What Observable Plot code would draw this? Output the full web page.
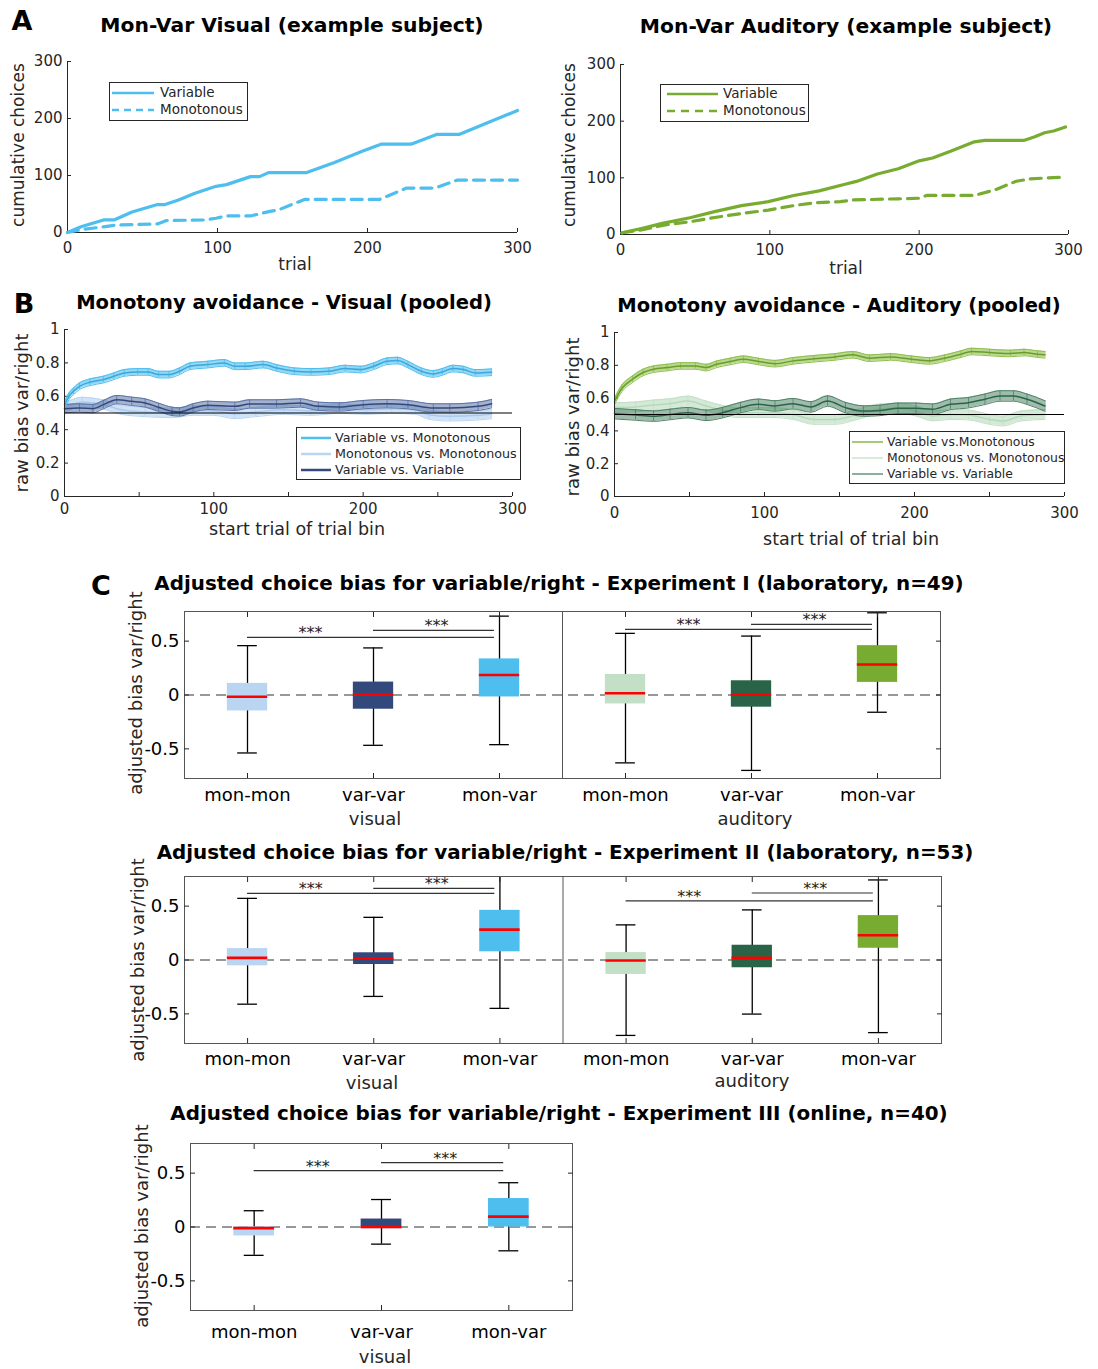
<!DOCTYPE html>
<html>
<head>
<meta charset="utf-8">
<script src="https://cdn.jsdelivr.net/npm/d3@7"></script>
<script src="https://cdn.jsdelivr.net/npm/@observablehq/plot@0.6"></script>
<style>
html,body{margin:0;padding:0;background:#fff;}
#root{position:relative;width:1098px;height:1369px;overflow:hidden;font-family:"DejaVu Sans",sans-serif;color:#000;}
.t{position:absolute;white-space:nowrap;line-height:1;transform-origin:0 0;}
.lg{position:absolute;border:1px solid #262626;background:#fff;box-sizing:border-box;}
.lg .row{position:absolute;white-space:nowrap;line-height:1;transform:translateY(-50%);color:#262626;}
.lg svg{position:absolute;overflow:visible;}
</style>
</head>
<body>
<div id="root"></div>
<script>
// ---------------- DATA ----------------
// Panel A: cumulative choices [trial, count]
const aVisVar = [[0,0],[9,10],[24,22],[31,22],[43,36],[60,49],[65,49],[74,57],[85,69],[99,81],[106,84],[122,98],[128,98],[134,105],[159,105],[178,123],[196,142],[209,155],[229,155],[246,172],[261,172],[300,214]];
const aVisMon = [[0,0],[9,5],[24,10],[32,13],[60,15],[66,21],[92,22],[99,25],[106,29],[122,29],[135,37],[141,40],[158,58],[208,58],[226,78],[245,78],[260,92],[300,92]];
const aAudVar = [[1,3],[14,10.7],[28,19.6],[46.5,29.6],[63,40.3],[81,51],[99,58],[116,68.8],[133,77],[151,89],[158,93.7],[172,106.7],[186,116],[200,130],[209,135],[221,147],[237,163.6],[244,166],[270,166],[277,172],[284,179.6],[290,182.6],[298,189.7]];
const aAudMon = [[1,3],[14,8],[30,17],[46.5,22.5],[63,30],[81,37],[99,43],[116,51],[130,56],[147,58],[156,61],[186,63],[200,64],[205,69],[237,69],[251,79],[265,94],[274,98],[286,100],[298,101]];
const aTicks = [0, 100, 200, 300];

// Panel B: raw bias [start trial, bias]
const bVisVM = [[0,0.55],[3,0.60],[6,0.63],[10,0.66],[17,0.684],[26,0.70],[33,0.72],[40,0.74],[49,0.746],[56,0.746],[63,0.73],[70,0.73],[77,0.75],[84,0.78],[96,0.79],[107,0.80],[114,0.78],[121,0.78],[133,0.79],[142,0.77],[154,0.75],[165,0.746],[177,0.75],[188,0.766],[198,0.76],[207,0.78],[216,0.81],[223,0.814],[230,0.79],[239,0.75],[247,0.734],[253,0.746],[260,0.766],[267,0.76],[275,0.74],[286,0.744]];
const bVisVV = [[0,0.526],[10,0.53],[19,0.526],[26,0.55],[35,0.58],[45,0.57],[54,0.56],[63,0.534],[72,0.51],[77,0.506],[86,0.53],[96,0.546],[114,0.54],[124,0.554],[142,0.554],[158,0.56],[170,0.54],[184,0.536],[200,0.55],[216,0.556],[230,0.55],[247,0.53],[258,0.53],[277,0.54],[286,0.556]];
const bVisMM = [[0,0.53],[12,0.566],[26,0.55],[38,0.52],[54,0.506],[72,0.50],[86,0.514],[100,0.514],[114,0.494],[128,0.506],[147,0.52],[165,0.514],[184,0.526],[202,0.52],[219,0.526],[235,0.52],[244,0.49],[258,0.48],[277,0.486],[286,0.494]];
const bAudVM = [[0,0.58],[5,0.66],[12,0.715],[19,0.756],[26,0.776],[35,0.786],[44,0.796],[54,0.796],[61,0.786],[68,0.806],[77,0.823],[86,0.837],[96,0.823],[107,0.81],[119,0.827],[133,0.84],[147,0.851],[159,0.864],[170,0.843],[184,0.851],[198,0.837],[210,0.827],[220,0.843],[231,0.868],[238,0.884],[250,0.878],[264,0.872],[273,0.878],[282,0.868],[287,0.864]];
const bAudVV = [[0,0.505],[14,0.497],[26,0.49],[37,0.50],[49,0.511],[61,0.495],[72,0.511],[84,0.542],[96,0.562],[107,0.552],[119,0.566],[131,0.546],[142,0.582],[154,0.542],[166,0.521],[177,0.525],[189,0.538],[201,0.538],[212,0.532],[224,0.562],[236,0.572],[247,0.593],[257,0.613],[266,0.613],[275,0.593],[287,0.552]];
const bAudMM = [[0,0.542],[14,0.546],[26,0.558],[37,0.566],[49,0.582],[61,0.552],[72,0.525],[84,0.511],[96,0.511],[107,0.511],[119,0.50],[133,0.47],[147,0.47],[161,0.497],[175,0.532],[189,0.538],[201,0.521],[212,0.491],[224,0.50],[236,0.497],[250,0.47],[259,0.46],[271,0.491],[287,0.50]];
const bErr = {visVM: 0.02, visVV: 0.025, visMM: 0.028, audVM: 0.02, audVV: 0.032, audMM: 0.03};
const bXTicks = [0, 50, 100, 150, 200, 250, 300];
const bYTicks = [0, 0.2, 0.4, 0.6, 0.8, 1];

// Panel C: boxplots [whisker low, q1, median, q3, whisker high]
const cats = ["mon-mon", "var-var", "mon-var"];
const exp1Visual   = [[-0.538,-0.148,-0.016,0.108,0.458],[-0.467,-0.132,0.003,0.12,0.437],[-0.461,-0.018,0.185,0.335,0.732]];
const exp1Auditory = [[-0.63,-0.083,0.016,0.191,0.572],[-0.70,-0.113,0.003,0.132,0.547],[-0.16,0.117,0.283,0.458,0.763]];
const exp2Visual   = [[-0.41,-0.054,0.02,0.106,0.572],[-0.338,-0.042,0.014,0.067,0.396],[-0.449,0.076,0.282,0.461,0.80]];
const exp2Auditory = [[-0.70,-0.134,-0.005,0.069,0.326],[-0.502,-0.072,0.02,0.137,0.465],[-0.674,0.109,0.23,0.412,0.743]];
const exp3Visual   = [[-0.263,-0.083,-0.01,0.002,0.151],[-0.159,-0.015,0.0,0.074,0.255],[-0.221,0.0,0.096,0.264,0.411]];
// significance bar heights [mon-mon→mon-var, var-var→mon-var]
const exp1VisualSig = [0.535, 0.60];
const exp1AuditorySig = [0.61, 0.655];
const exp2VisualSig = [0.618, 0.665];
const exp2AuditorySig = [0.548, 0.622];
const exp3VisualSig = [0.524, 0.598];
const cYTicks = [-0.5, 0, 0.5];

// ---------------- STYLE ----------------
const AX = "#262626";
const visBlue = "#4DBEEE", visLight = "#BAD5F2", visDark = "#34497B";
const audGreen = "#77AC30", audLight = "#C3DFC6", audDark = "#2A6448";
const visBox = [visLight, visDark, visBlue];
const audBox = [audLight, audDark, audGreen];
const FONT = "DejaVu Sans";

const root = document.getElementById("root");

function txt(s, x, y, o = {}) {
  const d = document.createElement("div");
  d.className = "t";
  d.textContent = s;
  d.style.left = x + "px"; d.style.top = y + "px";
  d.style.fontSize = (o.size || 17) + "px";
  d.style.fontWeight = o.bold ? "bold" : "normal";
  d.style.color = o.color || "#000";
  d.style.transform = (o.rotate ? `rotate(${o.rotate}deg) ` : "") + "translate(-50%,-50%)";
  root.appendChild(d);
}
function place(svg, x, y) {
  svg.style.position = "absolute"; svg.style.left = x + "px"; svg.style.top = y + "px";
  root.appendChild(svg);
}
function legend(x, y, w, h, items, o) {
  const ns = "http://www.w3.org/2000/svg";
  const box = document.createElement("div");
  box.className = "lg";
  Object.assign(box.style, {left: x + "px", top: y + "px", width: w + "px", height: h + "px"});
  items.forEach((it, i) => {
    const ry = o.rows[i];
    const sv = document.createElementNS(ns, "svg");
    const L = o.sw[1] - o.sw[0];
    sv.setAttribute("width", L); sv.setAttribute("height", 6);
    sv.style.left = o.sw[0] + "px"; sv.style.top = (ry - 3) + "px";
    const ln = document.createElementNS(ns, "line");
    ln.setAttribute("x1", 0); ln.setAttribute("x2", L); ln.setAttribute("y1", 3); ln.setAttribute("y2", 3);
    ln.setAttribute("stroke", it.color); ln.setAttribute("stroke-width", o.lw);
    if (it.dash) ln.setAttribute("stroke-dasharray", it.dash);
    sv.appendChild(ln); box.appendChild(sv);
    const r = document.createElement("div");
    r.className = "row"; r.textContent = it.label;
    r.style.left = o.tx + "px"; r.style.top = ry + "px"; r.style.fontSize = o.size + "px";
    box.appendChild(r);
  });
  root.appendChild(box);
}

// ---------------- PANEL A ----------------
function panelA(vdata, mdata, color, m) {
  return Plot.plot({
    width: 540, height: 240, ...m,
    style: {fontFamily: FONT, fontSize: "15px", color: AX, background: "transparent", overflow: "visible"},
    x: {domain: [0, 300]},
    y: {domain: [0, 300]},
    marks: [
      Plot.ruleX([0], {stroke: AX}),
      Plot.ruleY([0], {stroke: AX}),
      Plot.axisX({ticks: aTicks, tickSize: -4, tickPadding: 14, label: null}),
      Plot.axisY({ticks: aTicks, tickSize: -4, tickPadding: 9, label: null}),
      Plot.line(mdata, {x: d => d[0], y: d => d[1], stroke: color, strokeWidth: 3.2, strokeDasharray: "11,7"}),
      Plot.line(vdata, {x: d => d[0], y: d => d[1], stroke: color, strokeWidth: 3.2})
    ]
  });
}
place(panelA(aVisVar, aVisMon, visBlue, {marginLeft: 67, marginRight: 23, marginTop: 21, marginBottom: 48}), 0, 40);
place(panelA(aAudVar, aAudMon, audGreen, {marginLeft: 71, marginRight: 21, marginTop: 24, marginBottom: 46}), 549, 40);

// ---------------- PANEL B ----------------
function bSeries(data, err, color, lineColor, op) {
  const X = d => d[0];
  return [
    Plot.areaY(data, {x: X, y1: d => d[1] - err, y2: d => d[1] + err, fill: color, fillOpacity: op, curve: "monotone-x"}),
    Plot.ruleX(data, {x: X, y1: d => d[1] - err, y2: d => d[1] + err, stroke: color, strokeWidth: 0.8}),
    Plot.line(data, {x: X, y: d => d[1] + err, stroke: color, strokeWidth: 1, curve: "monotone-x"}),
    Plot.line(data, {x: X, y: d => d[1] - err, stroke: color, strokeWidth: 1, curve: "monotone-x"}),
    Plot.line(data, {x: X, y: d => d[1], stroke: lineColor, strokeWidth: 1.5, curve: "monotone-x"})
  ];
}
function panelB(series, m, pad) {
  return Plot.plot({
    width: 540, height: 230, ...m,
    style: {fontFamily: FONT, fontSize: "15px", color: AX, background: "transparent", overflow: "visible"},
    x: {domain: [0, 300]},
    y: {domain: [0, 1]},
    marks: [
      Plot.axisX({ticks: bXTicks, tickFormat: d => d % 100 === 0 ? String(d) : "", tickSize: -4, tickPadding: pad, label: null}),
      Plot.axisY({ticks: bYTicks, tickFormat: d => String(d), tickSize: -4, tickPadding: 9, label: null}),
      ...series,
      Plot.ruleY([0.5], {stroke: "#000", strokeWidth: 1.2}),
      Plot.ruleX([0], {stroke: AX}),
      Plot.ruleY([0], {stroke: AX})
    ]
  });
}
place(panelB([
  ...bSeries(bVisMM, bErr.visMM, visLight, "#A9C9EE", 0.7),
  ...bSeries(bVisVV, bErr.visVV, "#5A72A6", visDark, 0.55),
  ...bSeries(bVisVM, bErr.visVM, visBlue, "#3AA8DC", 0.6)
], {marginLeft: 64, marginRight: 28, marginTop: 19, marginBottom: 44}, 11), 0, 310);
place(panelB([
  ...bSeries(bAudMM, bErr.audMM, audLight, "#B5D9BC", 0.7),
  ...bSeries(bAudVV, bErr.audVV, "#4E8466", audDark, 0.55),
  ...bSeries(bAudVM, bErr.audVM, "#8DBE4A", "#6A9E28", 0.6)
], {marginLeft: 65, marginRight: 25, marginTop: 22, marginBottom: 44}, 15), 549, 310);

// ---------------- PANEL C ----------------
function panelC(groups, width, m, pad) {
  const n = groups.length * 3;
  const rows = groups.flatMap((g, gi) => g.stats.map((s, i) => ({
    pos: gi * 3 + i + 1, lo: s[0], q1: s[1], med: s[2], q3: s[3], hi: s[4], fill: g.colors[i]
  })));
  const sig = groups.flatMap((g, gi) => [
    {x1: gi * 3 + 1, x2: gi * 3 + 3 - 0.04, y: g.sig[0], sx: gi * 3 + 1.5},
    {x1: gi * 3 + 2, x2: gi * 3 + 3 - 0.04, y: g.sig[1], sx: gi * 3 + 2.5}
  ]);
  const posTicks = d3.range(1, n + 1);
  const boxHalf = 0.16, capHalf = 0.078;
  return Plot.plot({
    width, height: 220, ...m,
    style: {fontFamily: FONT, fontSize: "18px", color: AX, background: "transparent", overflow: "visible"},
    x: {domain: [0.5, n + 0.5]},
    y: {domain: [-0.775, 0.775]},
    marks: [
      Plot.ruleY([0], {stroke: "#333", strokeWidth: 1.2, strokeDasharray: "10,6"}),
      Plot.ruleX(rows, {x: "pos", y1: "lo", y2: "hi", stroke: "#000", strokeWidth: 1.3, clip: true}),
      Plot.ruleY(rows, {y: "lo", x1: d => d.pos - capHalf, x2: d => d.pos + capHalf, stroke: "#000", strokeWidth: 1.3}),
      Plot.ruleY(rows.filter(d => d.hi < 0.775), {y: "hi", x1: d => d.pos - capHalf, x2: d => d.pos + capHalf, stroke: "#000", strokeWidth: 1.3}),
      Plot.rect(rows, {x1: d => d.pos - boxHalf, x2: d => d.pos + boxHalf, y1: "q1", y2: "q3", fill: d => d.fill}),
      Plot.ruleY(rows, {y: "med", x1: d => d.pos - boxHalf, x2: d => d.pos + boxHalf, stroke: "#FF0000", strokeWidth: 2.6}),
      Plot.ruleY(sig, {y: "y", x1: "x1", x2: "x2", stroke: "#333", strokeWidth: 1.2}),
      Plot.text(sig, {x: "sx", y: "y", text: () => "***", fontSize: 16, fill: "#222", lineAnchor: "bottom", dy: 1}),
      ...(groups.length > 1 ? [Plot.ruleX([3.5], {stroke: "#555"})] : []),
      Plot.frame({stroke: "#555"}),
      Plot.axisX({ticks: posTicks, tickFormat: p => cats[(p - 1) % 3], tickSize: -5, tickPadding: pad, label: null, fill: "#000"}),
      Plot.axisX({anchor: "top", ticks: posTicks, tickFormat: () => "", tickSize: -5, label: null}),
      Plot.axisY({ticks: cYTicks, tickFormat: d => String(d), tickSize: -5, tickPadding: 10, label: null, fill: "#000"}),
      Plot.axisY({anchor: "right", ticks: cYTicks, tickFormat: () => "", tickSize: -5, label: null})
    ]
  });
}
place(panelC([
  {stats: exp1Visual, colors: visBox, sig: exp1VisualSig},
  {stats: exp1Auditory, colors: audBox, sig: exp1AuditorySig}
], 840, {marginLeft: 64, marginRight: 20, marginTop: 11, marginBottom: 42}, 15), 120, 600);
place(panelC([
  {stats: exp2Visual, colors: visBox, sig: exp2VisualSig},
  {stats: exp2Auditory, colors: audBox, sig: exp2AuditorySig}
], 840, {marginLeft: 64, marginRight: 19, marginTop: 11, marginBottom: 42}, 14), 120, 865);
place(panelC([
  {stats: exp3Visual, colors: visBox, sig: exp3VisualSig}
], 470, {marginLeft: 70, marginRight: 18, marginTop: 11, marginBottom: 42}, 20), 120, 1132);

// ---------------- LEGENDS ----------------
legend(109, 82, 139, 39, [
  {label: "Variable", color: visBlue},
  {label: "Monotonous", color: visBlue, dash: "7,5"}
], {rows: [10, 27], sw: [2, 44], tx: 50, lw: 2.5, size: 13.5});
legend(660, 84, 149, 38, [
  {label: "Variable", color: audGreen},
  {label: "Monotonous", color: audGreen, dash: "8,6"}
], {rows: [9, 26], sw: [6, 57], tx: 62, lw: 2.5, size: 13.5});
legend(296, 427, 225, 53, [
  {label: "Variable vs. Monotonous", color: visBlue},
  {label: "Monotonous vs. Monotonous", color: visLight},
  {label: "Variable vs. Variable", color: visDark}
], {rows: [10, 26, 42], sw: [4, 34], tx: 38, lw: 2.5, size: 12.7});
legend(849, 431, 216, 53, [
  {label: "Variable vs.Monotonous", color: audGreen},
  {label: "Monotonous vs. Monotonous", color: audLight},
  {label: "Variable vs. Variable", color: "#4E8466"}
], {rows: [10, 26, 42], sw: [2, 33], tx: 37, lw: 1.3, size: 12.4});

// ---------------- TEXT ----------------
txt("A", 22, 20, {size: 27, bold: true});
txt("B", 24, 303, {size: 27, bold: true});
txt("C", 101, 585, {size: 27, bold: true});
txt("Mon-Var Visual (example subject)", 292, 25, {size: 20.3, bold: true});
txt("Mon-Var Auditory (example subject)", 846, 26, {size: 20.3, bold: true});
txt("Monotony avoidance - Visual (pooled)", 284, 303, {size: 19.5, bold: true});
txt("Monotony avoidance - Auditory (pooled)", 839, 306, {size: 19.5, bold: true});
txt("Adjusted choice bias for variable/right - Experiment I (laboratory, n=49)", 559, 584, {size: 19.9, bold: true});
txt("Adjusted choice bias for variable/right - Experiment II (laboratory, n=53)", 565, 853, {size: 19.9, bold: true});
txt("Adjusted choice bias for variable/right - Experiment III (online, n=40)", 559, 1114, {size: 19.9, bold: true});

txt("cumulative choices", 18, 145, {size: 17, rotate: -90, color: AX});
txt("cumulative choices", 569, 145, {size: 17, rotate: -90, color: AX});
txt("trial", 295, 264, {size: 17, color: AX});
txt("trial", 846, 268, {size: 17, color: AX});
txt("raw bias var/right", 22, 413, {size: 18, rotate: -90, color: AX});
txt("raw bias var/right", 573, 417, {size: 18, rotate: -90, color: AX});
txt("start trial of trial bin", 297, 530, {size: 17.5, color: AX});
txt("start trial of trial bin", 851, 540, {size: 17.5, color: AX});
txt("adjusted bias var/right", 136, 693, {size: 18, rotate: -90, color: AX});
txt("adjusted bias var/right", 138, 960, {size: 18, rotate: -90, color: AX});
txt("adjusted bias var/right", 142, 1226, {size: 18, rotate: -90, color: AX});
txt("visual", 375, 819, {size: 18, color: AX});
txt("auditory", 755, 819, {size: 18, color: AX});
txt("visual", 372, 1083, {size: 18, color: AX});
txt("auditory", 752, 1081, {size: 18, color: AX});
txt("visual", 385, 1357, {size: 18, color: AX});
</script>
</body>
</html>
